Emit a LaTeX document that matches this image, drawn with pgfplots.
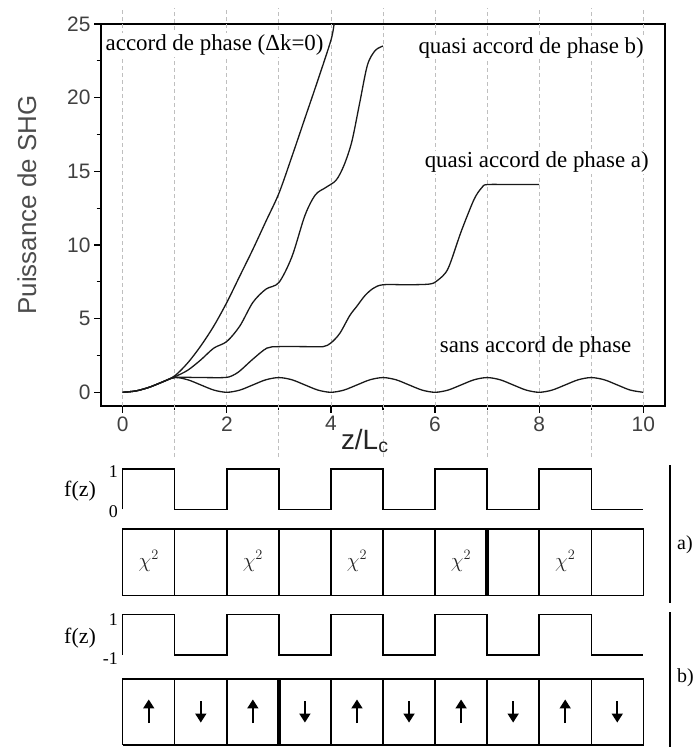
\documentclass[border=0pt]{standalone}
\usepackage{fontspec}
\setmainfont{Liberation Serif}
\setsansfont{Liberation Sans}
\usepackage{pgfplots}
\pgfplotsset{compat=1.18}
\usetikzlibrary{arrows.meta}
\tikzset{gridl/.style={gray!50, line width=0.8bp, dash pattern=on 4bp off 3bp}}
\pgfplotsset{
  lower/.style={at={(101bp,#1)}, anchor=south west, scale only axis, width=564bp,
    xmin=-0.417, xmax=10.417, hide axis, clip=false},
}
\begin{document}
\begin{tikzpicture}
\path[use as bounding box] (0,0) rectangle (695bp,747bp);
% ---------------- main plot ----------------
\begin{axis}[
  at={(101bp,341bp)}, anchor=south west,
  scale only axis, width=564bp, height=382bp,
  xmin=-0.417, xmax=10.417, ymin=-0.93, ymax=25,
  axis line style={line width=1.4bp},
  xtick={0,2,...,10}, minor xtick={1,3,...,9},
  ytick={0,5,...,25}, minor ytick={2.5,7.5,...,22.5},
  tick align=outside, tick pos=left,
  major tick length=7bp, minor tick length=4.5bp,
  every tick/.style={black, line width=1.2bp},
  every minor tick/.style={black, line width=1.2bp},
  tick label style={font=\fontsize{21}{21}\sffamily, text=black!75},
  /pgf/number format/assume math mode=true,
  clip=false,
]
\pgfplotsinvokeforeach{0,2,4,6,8,10}{\draw[gridl] (axis cs:#1,-0.93) -- (axis cs:#1,26.1);}
\pgfplotsinvokeforeach{1,3,5,7,9}{\draw[gridl] (axis cs:#1,-4.4) -- (axis cs:#1,26.1);}

\node[anchor=west, fill=white, inner sep=1.5bp, font=\fontsize{23}{23}\selectfont] at (axis cs:-0.36,23.55) {accord de phase (Δk=0)};
\node[anchor=west, fill=white, inner sep=1.5bp, font=\fontsize{23}{23}\selectfont] at (axis cs:5.65,23.4) {quasi accord de phase b)};
\node[anchor=west, fill=white, inner sep=1.5bp, font=\fontsize{23}{23}\selectfont] at (axis cs:5.77,15.6) {quasi accord de phase a)};
\node[anchor=west, inner sep=1.5bp, font=\fontsize{23}{23}\selectfont] at (axis cs:6.06,3.1) {sans accord de phase};

% phase matched
\addplot[smooth, black!90, line width=1.3bp] coordinates {
(0,0)(0.25,0.09)(0.5,0.33)(0.75,0.68)(1,1.12)(1.25,2.0)(1.5,3.15)(1.75,4.5)(2,6.1)(2.25,7.9)(2.5,9.7)(2.75,11.6)(3,13.5)(3.25,16.0)(3.5,18.6)(3.75,21.2)(4,23.9)(4.06,25)};
% QPM b
\addplot[smooth, black!90, line width=1.3bp] coordinates {
(0,0)(0.25,0.09)(0.5,0.33)(0.75,0.68)(1,1.05)(1.25,1.5)(1.5,2.2)(1.75,3.0)(2,3.45)(2.25,4.5)(2.5,6.1)(2.75,7.0)(3,7.45)(3.25,9.2)(3.5,12.0)(3.7,13.4)(3.9,13.9)(4.1,14.4)(4.25,15.4)(4.4,17.0)(4.55,19.6)(4.7,22.2)(4.85,23.2)(5,23.5)};
% QPM a
\addplot[smooth, black!90, line width=1.3bp] coordinates {
(0,0)(0.25,0.09)(0.5,0.33)(0.75,0.68)(1,1.0)(1.5,1.0)(1.95,1.0)(2.1,1.12)(2.25,1.45)(2.5,2.25)(2.77,3.0)(3,3.1)(3.5,3.1)(3.85,3.1)(4,3.35)(4.17,4.0)(4.36,5.2)(4.5,5.85)(4.65,6.55)(4.81,7.05)(5,7.3)(5.5,7.3)(5.9,7.35)(6.05,7.6)(6.25,8.4)(6.5,10.9)(6.75,13.1)(6.9,13.9)(7,14.1)(7.5,14.1)(8,14.1)};
% no phase matching
\addplot[smooth, black!90, line width=1.3bp] coordinates {
(0,0)(0.25,0.09)(0.5,0.33)(0.75,0.68)(1,1.0)(1.25,0.85)(1.5,0.5)(1.75,0.15)(2,0)
(2.25,0.15)(2.5,0.5)(2.75,0.85)(3,1)(3.25,0.85)(3.5,0.5)(3.75,0.15)(4,0)
(4.25,0.15)(4.5,0.5)(4.75,0.85)(5,1)(5.25,0.85)(5.5,0.5)(5.75,0.15)(6,0)
(6.25,0.15)(6.5,0.5)(6.75,0.85)(7,1)(7.25,0.85)(7.5,0.5)(7.75,0.15)(8,0)
(8.25,0.15)(8.5,0.5)(8.75,0.85)(9,1)(9.25,0.85)(9.5,0.5)(9.75,0.15)(10,0)};

\node[rotate=90, font=\fontsize{26}{26}\sffamily, text=black!70] at (axis cs:-1.84,12.7) {Puissance de SHG};
\node[font=\fontsize{28}{28}\sffamily, text=black!85] at (axis cs:4.65,-3.3) {z/L\textsubscript{c}};
\end{axis}

% ---------------- f(z) a ----------------
\begin{axis}[lower=237.7bp, height=40.3bp, ymin=0, ymax=1]
\addplot[const plot, no markers, black, line width=1.4bp] coordinates {(0,0)(0,1)(1,0)(2,1)(3,0)(4,1)(5,0)(6,1)(7,0)(8,1)(9,0)(10,0)};
\node[font=\fontsize{22}{22}\selectfont] at (axis cs:-0.82,0.45) {f(z)};
\node[anchor=east, inner sep=0pt, font=\fontsize{18}{18}\selectfont] at (axis cs:-0.09,0.93) {1};
\node[anchor=east, inner sep=0pt, font=\fontsize{18}{18}\selectfont] at (axis cs:-0.09,-0.06) {0};
\end{axis}

% ---------------- boxes a ----------------
\begin{axis}[lower=151.3bp, height=66.7bp, ymin=0, ymax=1]
\addplot[no markers, black, line width=1.4bp] coordinates {(0,0)(10,0)(10,1)(0,1)(0,0)};
\addplot[ycomb, no markers, black, line width=1.4bp] coordinates {(1,1)(2,1)(3,1)(4,1)(5,1)(6,1)(8,1)(9,1)};
\addplot[ycomb, no markers, black, line width=3.6bp] coordinates {(7,1)};
\pgfplotsinvokeforeach{0.5,2.5,4.5,6.5,8.5}{\node[font=\fontsize{21}{21}\selectfont, text=black!85] at (axis cs:#1,0.52) {$\chi^{2}$};}
\end{axis}

% ---------------- f(z) b ----------------
\begin{axis}[lower=92bp, height=40.7bp, ymin=-1, ymax=1]
\addplot[const plot, no markers, black, line width=1.4bp] coordinates {(0,-1)(0,1)(1,-1)(2,1)(3,-1)(4,1)(5,-1)(6,1)(7,-1)(8,1)(9,-1)(10,-1)};
\node[font=\fontsize{22}{22}\selectfont] at (axis cs:-0.82,-0.16) {f(z)};
\node[anchor=east, inner sep=0pt, font=\fontsize{18}{18}\selectfont] at (axis cs:-0.09,0.72) {1};
\node[anchor=east, inner sep=0pt, font=\fontsize{18}{18}\selectfont] at (axis cs:-0.09,-1.2) {-1};
\end{axis}

% ---------------- boxes b ----------------
\begin{axis}[lower=2bp, height=66bp, ymin=0, ymax=1]
\addplot[no markers, black, line width=1.4bp] coordinates {(0,0)(10,0)(10,1)(0,1)(0,0)};
\addplot[ycomb, no markers, black, line width=1.4bp] coordinates {(1,1)(2,1)(4,1)(5,1)(6,1)(7,1)(8,1)(9,1)};
\addplot[ycomb, no markers, black, line width=3.6bp] coordinates {(3,1)};
\addplot[quiver={u=0, v=\thisrow{v}}, no markers, black, line width=1.7bp,
  -{Triangle[width=11bp,length=9bp]}] table {
x y v
0.5 0.33 0.36
1.5 0.66 -0.32
2.5 0.33 0.36
3.5 0.66 -0.32
4.5 0.33 0.36
5.5 0.66 -0.32
6.5 0.33 0.36
7.5 0.66 -0.32
8.5 0.33 0.36
9.5 0.66 -0.32
};
\end{axis}

% side brackets and labels
\draw[black, line width=1.4bp] (670bp,144bp) -- (670bp,282bp);
\draw[black, line width=1.4bp] (670bp,0bp) -- (670bp,135bp);
\node[anchor=west, inner sep=0pt, font=\fontsize{20}{20}\selectfont] at (677bp,202bp) {a)};
\node[anchor=west, inner sep=0pt, font=\fontsize{20}{20}\selectfont] at (677bp,69bp) {b)};
\end{tikzpicture}
\end{document}
